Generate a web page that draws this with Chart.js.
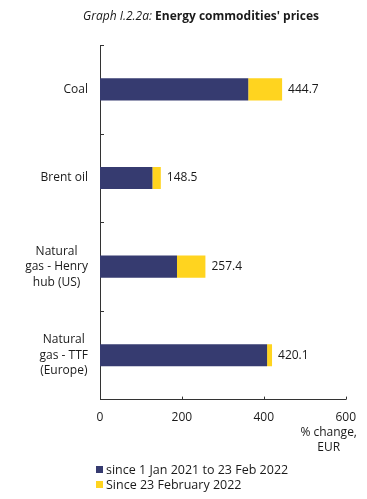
<!DOCTYPE html>
<html>
<head>
<meta charset="utf-8">
<script src="https://cdn.jsdelivr.net/npm/chart.js@4.4.0/dist/chart.umd.min.js"></script>
<style>
    html, body { margin: 0; padding: 0; background: #fff; }
    #wrap { position: relative; width: 367px; height: 499px; }
</style>
</head>
<body>
<div id="wrap"><canvas id="chart"></canvas></div>
<script>
let categories = ['Coal', 'Brent oil', ['Natural', 'gas - Henry', 'hub (US)'], ['Natural', 'gas - TTF', '(Europe)']];
let sinceJan2021 = [362, 128, 188, 408];
let since23Feb = [82.7, 20.5, 69.4, 12.1];
let totals = [444.7, 148.5, 257.4, 420.1];
let xTicks = [0, 200, 400, 600];
let seriesNames = ['since 1 Jan 2021 to 23 Feb 2022', 'Since 23 February 2022'];
let seriesColors = ['#363b70', '#ffd41f'];

let fontFamily = "'Open Sans', sans-serif";
let textColor = '#1a1a1a';
let axisColor = '#333333';

Chart.defaults.font.family = fontFamily;
Chart.defaults.font.size = 12;
Chart.defaults.color = textColor;

// draws title, category labels, inward ticks, totals, axis title and legend
const extras = {
    id: 'extras',
    afterDraw(chart) {
        let ctx = chart.ctx;
        let area = chart.chartArea;
        let x = chart.scales.x;
        ctx.save();

        // inward tick marks
        ctx.strokeStyle = axisColor;
        ctx.lineWidth = 1;
        ctx.beginPath();
        xTicks.forEach(v => {
            let px = Math.round(x.getPixelForValue(v)) + 0.5;
            ctx.moveTo(px, area.bottom);
            ctx.lineTo(px, area.bottom - 3);
        });
        let step = (area.bottom - area.top) / categories.length;
        for (let i = 0; i < categories.length; i++) {
            let py = Math.round(area.top + i * step) + 0.5;
            ctx.moveTo(area.left, py);
            ctx.lineTo(area.left + 4, py);
        }
        ctx.stroke();

        // category labels: block right-aligned, lines centred
        ctx.fillStyle = textColor;
        ctx.font = '12px ' + fontFamily;
        ctx.textBaseline = 'middle';
        ctx.textAlign = 'center';
        let meta0 = chart.getDatasetMeta(0);
        categories.forEach((label, i) => {
            let lines = Array.isArray(label) ? label : [label];
            let maxW = Math.max(...lines.map(l => ctx.measureText(l).width));
            let cx = area.left - 12 - maxW / 2;
            let cy = meta0.data[i].y;
            let lh = 15.5;
            lines.forEach((l, j) => {
                ctx.fillText(l, cx, cy + (j - (lines.length - 1) / 2) * lh);
            });
        });

        // totals at the end of each stacked bar
        ctx.textAlign = 'left';
        let meta1 = chart.getDatasetMeta(1);
        meta1.data.forEach((bar, i) => {
            ctx.fillText(totals[i].toFixed(1), bar.x + 6, bar.y);
        });

        // axis title
        ctx.textAlign = 'center';
        let atx = area.right - 17;
        ctx.fillText('% change,', atx, area.bottom + 33);
        ctx.fillText('EUR', atx, area.bottom + 48);

        // title
        ctx.font = 'italic 12px ' + fontFamily;
        let part1 = 'Graph I.2.2a: ';
        let w1 = ctx.measureText(part1).width;
        ctx.font = 'bold 12px ' + fontFamily;
        let part2 = "Energy commodities' prices";
        let w2 = ctx.measureText(part2).width;
        let tx = 201 - (w1 + w2) / 2;
        ctx.textAlign = 'left';
        ctx.font = 'italic 12px ' + fontFamily;
        ctx.fillText(part1, tx, 17);
        ctx.font = 'bold 12px ' + fontFamily;
        ctx.fillText(part2, tx + w1, 17);

        // legend
        ctx.font = '12.5px ' + fontFamily;
        seriesNames.forEach((name, i) => {
            let ly = 470 + i * 15;
            ctx.fillStyle = seriesColors[i];
            ctx.fillRect(96, ly - 4, 7, 7);
            ctx.fillStyle = textColor;
            ctx.fillText(name, 106, ly);
        });

        ctx.restore();
    }
};

chart = new Chart(document.getElementById('chart'), {
    type: 'bar',
    data: {
        labels: categories,
        datasets: [{
            label: seriesNames[0],
            data: sinceJan2021,
            backgroundColor: seriesColors[0],
            categoryPercentage: 0.5,
            barPercentage: 0.5
        }, {
            label: seriesNames[1],
            data: since23Feb,
            backgroundColor: seriesColors[1],
            categoryPercentage: 0.5,
            barPercentage: 0.5
        }]
    },
    options: {
        indexAxis: 'y',
        responsive: true,
        maintainAspectRatio: false,
        animation: false,
        layout: {
            padding: { top: 45, right: 20, left: 100, bottom: 63 }
        },
        plugins: {
            legend: { display: false },
            tooltip: { enabled: false }
        },
        scales: {
            x: {
                stacked: true,
                min: 0,
                max: 600,
                afterBuildTicks: scale => {
                    scale.ticks = xTicks.map(v => ({ value: v }));
                },
                grid: { display: false, drawTicks: false },
                border: { display: true, color: axisColor, width: 1 },
                ticks: { padding: 11, color: textColor, font: { size: 12 } }
            },
            y: {
                stacked: true,
                grid: { display: false, drawTicks: false },
                border: { display: true, color: axisColor, width: 1 },
                ticks: { display: false }
            }
        }
    },
    plugins: [extras]
});
</script>
</body>
</html>
